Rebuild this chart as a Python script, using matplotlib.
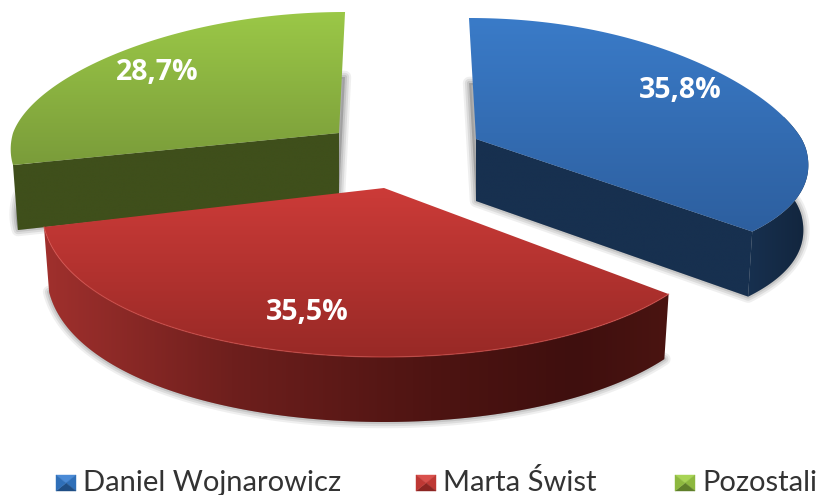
import numpy as np
import matplotlib
matplotlib.use("Agg")
import matplotlib.pyplot as plt
from matplotlib.colors import LinearSegmentedColormap
from matplotlib.patches import Polygon

# Chart data
names = ["Daniel Wojnarowicz", "Marta Świst", "Pozostali"]
shares = [35.8, 35.5, 28.7]
share_labels = ["35,8%", "35,5%", "28,7%"]

# Look of each slice: apex, radii, perspective skew
blue = dict(cx=476, cy=139, a=330, bu=121, bd=140, skew=-0.058, bulge=10,
            top=["#3A7BC8", "#2D5F9F"], inner="#17304F",
            outer=[(0, "#17304F"), (1, "#12253D")], legend=["#4A8AD6", "#2F6FB8", "#1F4E85"],
            label_xy=(680, 90), legend_x=56, text_x=83)
red = dict(cx=384, cy=188, a=340, bu=121, bd=169, skew=0.0, bulge=0,
           top=["#CC3B38", "#982926"], inner="#4A1411",
           outer=[(0, "#A0302D"), (0.3, "#6E1F1D"), (0.62, "#4E1412"), (0.85, "#3F0F0E"), (1, "#4A1411")],
           legend=["#D9504C", "#BE3834", "#8C2522"],
           label_xy=(307, 313), legend_x=416, text_x=443)
green = dict(cx=339, cy=133, a=326, bu=121, bd=139, skew=0.05, bulge=0,
             top=["#9BC847", "#7A9C3A"], inner="#3F4F1B",
             outer=[(0, "#3F4F1B"), (1, "#3F4F1B")], legend=["#A8D455", "#8DB83F", "#5F7F2A"],
             label_xy=(157, 72), legend_x=675, text_x=702)
styles = [blue, red, green]

DEPTH = 65
SHRINK = 0.985
PERSP = 0.12


def arc(st, t0, t1, lower=False):
    t = np.radians(np.linspace(t0, t1, 160))
    c, s = np.cos(t), np.sin(t)
    dx = st["a"] * c * (1 - PERSP * s)
    dy = np.where(s > 0, st["bu"], st["bd"]) * s
    dy = dy - st["bulge"] * np.clip(c, 0, None) ** 3
    x = dx + st["skew"] * np.clip(dy, 0, None)
    if lower:
        return np.column_stack([st["cx"] + x * SHRINK, st["cy"] - dy + DEPTH])
    return np.column_stack([st["cx"] + x, st["cy"] - dy])


def apex(st, lower=False):
    return [st["cx"], st["cy"] + (DEPTH - 3 if lower else 0)]


def fill(ax, pts, stops, vertical=True, zorder=2):
    poly = Polygon(pts, closed=True, fc="none", ec="none", transform=ax.transData)
    ax.add_patch(poly)
    cmap = LinearSegmentedColormap.from_list("g", stops)
    if vertical:
        grad = np.linspace(0, 1, 256).reshape(-1, 1)
        ext = (pts[:, 0].min() - 1, pts[:, 0].max() + 1, pts[:, 1].max(), pts[:, 1].min())
    else:
        grad = np.linspace(0, 1, 256).reshape(1, -1)
        ext = (pts[:, 0].min(), pts[:, 0].max(), pts[:, 1].max() + 1, pts[:, 1].min() - 1)
    im = ax.imshow(grad, cmap=cmap, extent=ext, aspect="auto", origin="upper",
                   interpolation="bilinear", zorder=zorder)
    im.set_clip_path(poly)


fig = plt.figure(figsize=(8.18, 4.95), dpi=100)
ax = fig.add_axes([0, 0, 1, 1])

# slice angles come from the shares, clockwise from 12 o'clock
edges = 90 - np.cumsum([0] + shares) * 3.6
spans = {id(st): (edges[i], edges[i + 1]) for i, st in enumerate(styles)}

for order, st in enumerate([green, blue, red]):
    t_start, t_end = spans[id(st)]
    z = 2 + order * 2
    top_arc = arc(st, t_start, t_end)
    low_arc = arc(st, t_start, t_end, lower=True)

    # soft shadow under the slice
    base = np.vstack([[apex(st, True)], low_arc])
    for lw, al in [(9, 0.10), (6, 0.14), (3, 0.18)]:
        ax.add_patch(Polygon(base, closed=True, fc="#666666", ec="#666666", lw=lw, alpha=al,
                             joinstyle="round", zorder=z - 0.5))

    # cut face seen from the front
    if st is blue:
        wall = np.array([apex(st), top_arc[-1], low_arc[-1], apex(st, True)])
        fill(ax, wall, [st["inner"], st["inner"]], zorder=z)
    if st is green:
        wall = np.array([apex(st), top_arc[0], low_arc[0], apex(st, True)])
        fill(ax, wall, [st["inner"], st["inner"]], zorder=z)

    # outer rim
    if st is not green:
        rim_top = arc(st, t_end, min(t_start, 15))
        rim_low = arc(st, t_end, min(t_start, 15), lower=True)
        rim = np.vstack([rim_top, rim_low[::-1]])
        fill(ax, rim, st["outer"], vertical=False, zorder=z + 0.1)

    # top face
    face = np.vstack([[apex(st)], top_arc])
    fill(ax, face, st["top"], zorder=z + 0.2)

    if st is red:
        ax.plot(top_arc[:, 0], top_arc[:, 1], color="#D8504C", lw=0.9, alpha=0.6, zorder=z + 0.3)

    ax.text(st["label_xy"][0], st["label_xy"][1], share_labels[styles.index(st)], color="white",
            family="Open Sans", weight="bold", fontsize=20.5, ha="center", va="center", zorder=20)

# legend
for st, name in zip(styles, names):
    x0, y0, w, h = st["legend_x"], 475, 20, 16
    xm, ym = x0 + w / 2, y0 + h / 2
    light, mid, dark = st["legend"]
    corners = [(x0, y0), (x0 + w, y0), (x0 + w, y0 + h), (x0, y0 + h)]
    for i, col in enumerate([light, mid, dark, mid]):
        ax.add_patch(Polygon([corners[i], corners[(i + 1) % 4], (xm, ym)], closed=True,
                             fc=col, ec=col, lw=0.3, zorder=10))
    ax.text(st["text_x"], 491, name, color="#333333", family="Lato", fontsize=21,
            ha="left", va="baseline", zorder=10)

ax.set_xlim(0, 818)
ax.set_ylim(495, 0)
ax.axis("off")
fig.savefig("out.png", dpi=100, facecolor="white")
